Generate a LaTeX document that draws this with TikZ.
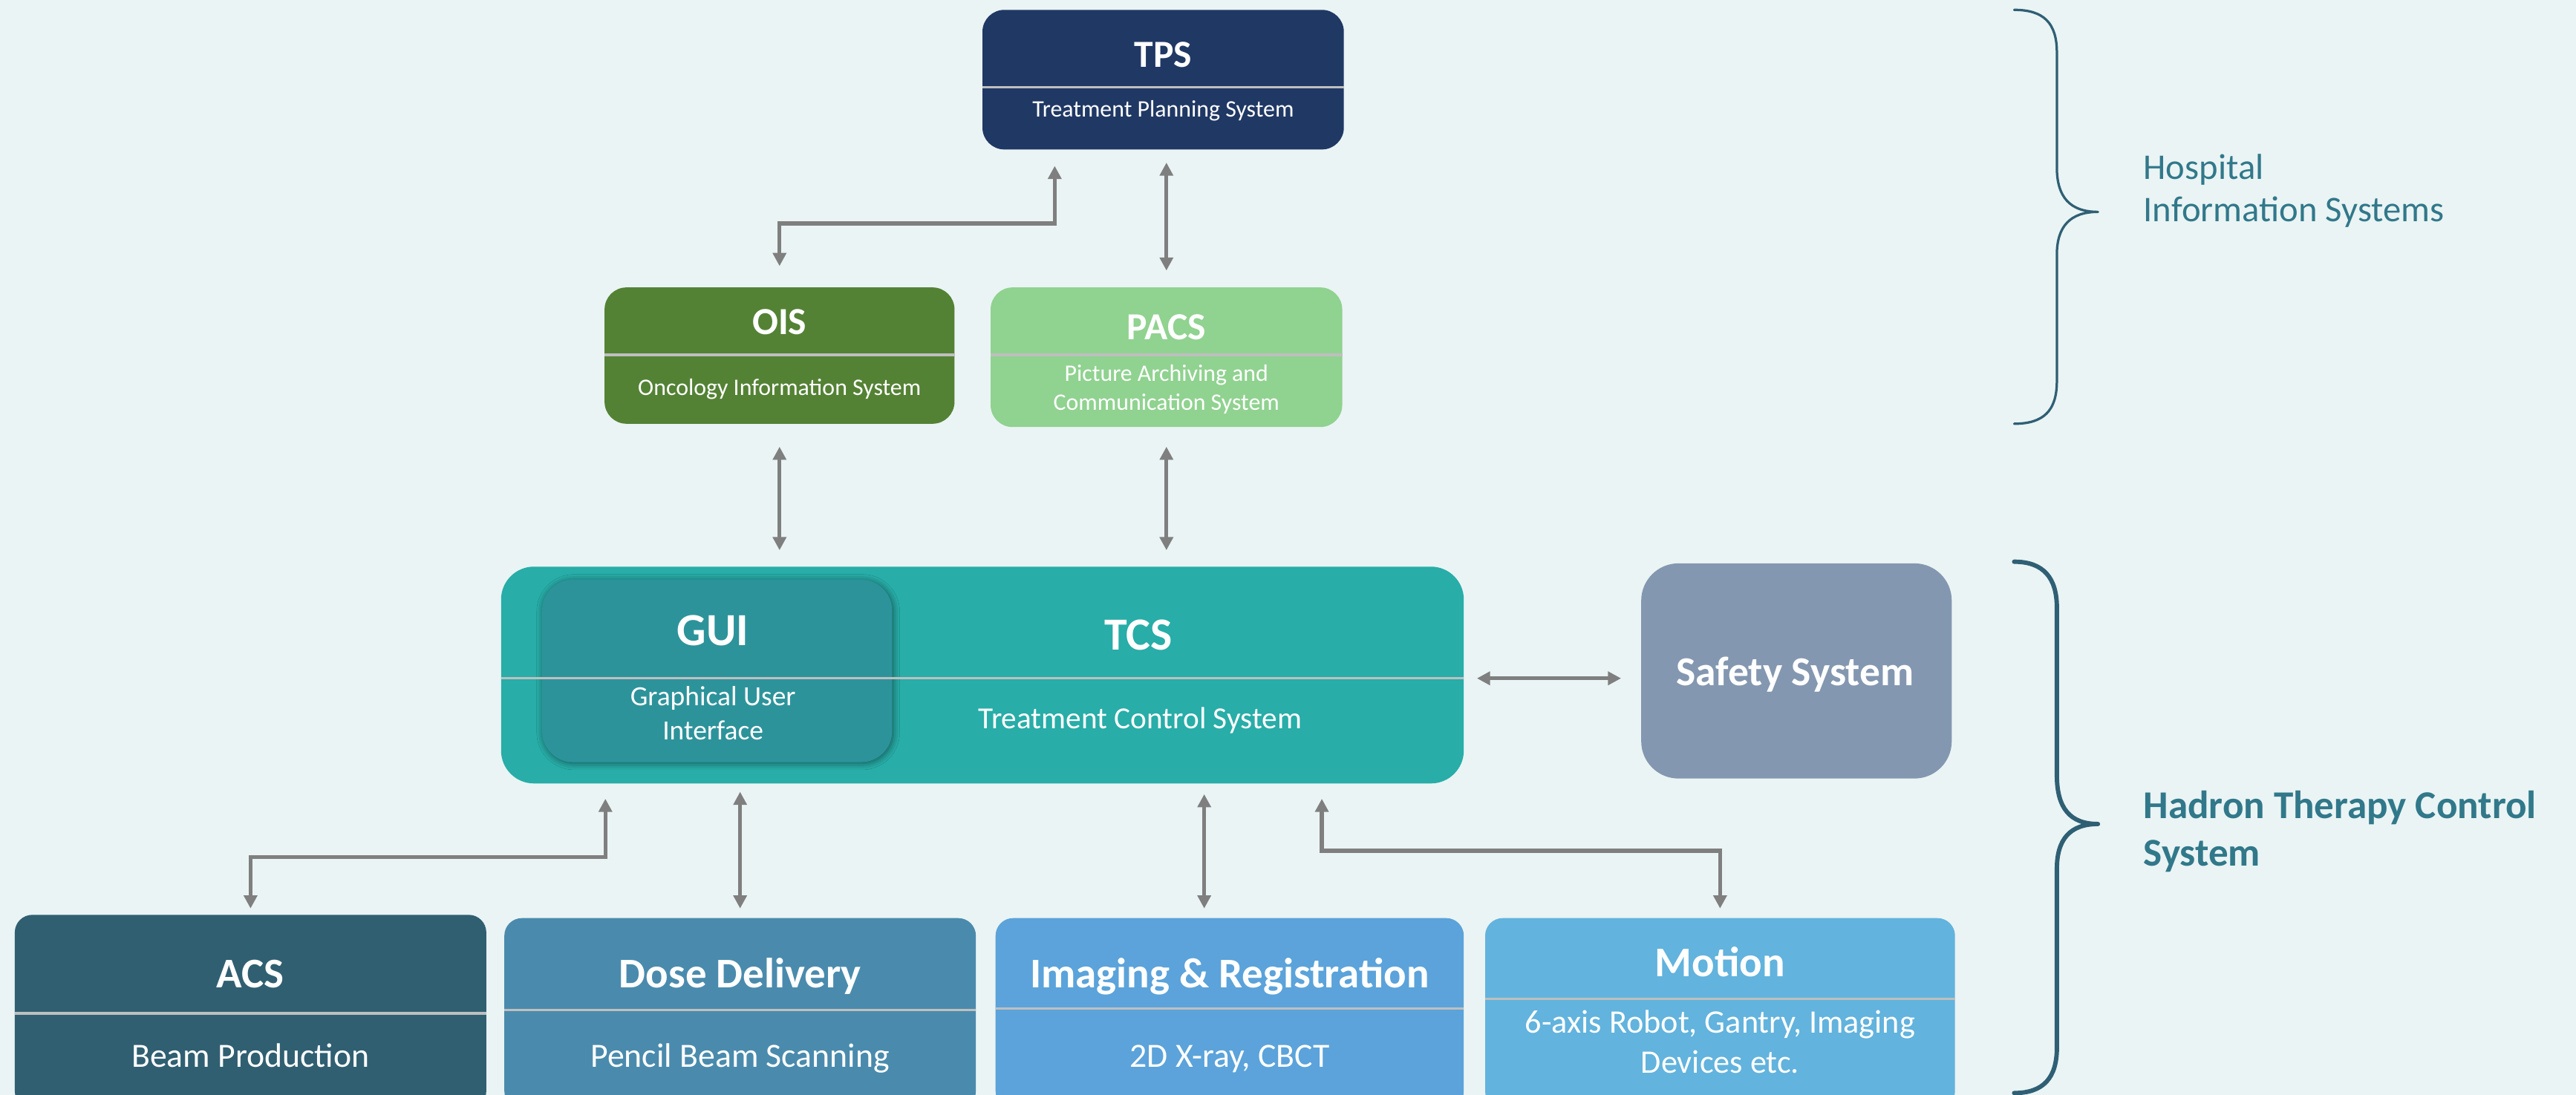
\documentclass[tikz,border=0pt]{standalone}
\usepackage{fontspec}
\setmainfont{Carlito}
\usetikzlibrary{arrows.meta,positioning,shadows.blur}

\definecolor{bgc}{HTML}{EAF4F4}
\definecolor{tpsc}{HTML}{203864}
\definecolor{oisc}{HTML}{548235}
\definecolor{pacsc}{HTML}{90D290}
\definecolor{tcsc}{HTML}{28ADA8}
\definecolor{guic}{HTML}{2D939B}
\definecolor{safec}{HTML}{8497B0}
\definecolor{acsc}{HTML}{305F72}
\definecolor{dosec}{HTML}{4A8BAD}
\definecolor{imgc}{HTML}{5BA3DA}
\definecolor{motc}{HTML}{62B3DD}
\definecolor{arrc}{HTML}{7F7F7F}
\definecolor{divc}{HTML}{BFBFBF}
\definecolor{bracec}{HTML}{2F5F74}
\definecolor{lblc}{HTML}{31788A}

\newcommand{\fsz}[2]{\fontsize{#1}{#2}\selectfont}

\tikzset{
  box/.style={rounded corners=#1, inner sep=0pt, outer sep=0pt},
  box/.default=10pt,
  ttl/.style={anchor=base, text=white, inner sep=0pt, font=\bfseries\fsz{#1}{20}},
  sub/.style={anchor=base, text=white, inner sep=0pt, align=center},
  sep/.style={draw=divc, line width=1.1pt},
  conn/.style={draw=arrc, line width=1.8pt, {Triangle[length=6pt,width=6pt]}-{Triangle[length=6pt,width=6pt]}},
  curly/.style={draw=bracec, line cap=round, line join=round},
  side/.style={anchor=base west, text=lblc, inner sep=0pt, align=left}
}

\begin{document}
\begin{tikzpicture}[x=0.75pt,y=0.75pt,yscale=-1,xscale=1]
\clip (0,0) rectangle (1568,666.7);
\fill[bgc] (0,0) rectangle (1568,666.7);

% hospital systems
\node[box, fill=tpsc, minimum width=165pt, minimum height=63.75pt] (tps) at (708,48.5) {};
\draw[sep] (tps.west |- 0,53) -- (tps.east |- 0,53);
\node[ttl=17.5] (tpsT) at (708,41) {TPS};
\node[sub, font=\fsz{10.8}{13}] (tpsS) at (708,71) {Treatment Planning System};

\node[box, fill=oisc, minimum width=159.75pt, minimum height=62.25pt] (ois) at (474.5,216.5) {};
\draw[sep] (ois.west |- 0,216) -- (ois.east |- 0,216);
\node[ttl=17.5] (oisT) at (474.5,203.4) {OIS};
\node[sub, font=\fsz{10.8}{13}] (oisS) at (474.5,240.6) {Oncology Information System};

\node[box, fill=pacsc, minimum width=160.5pt, minimum height=63.75pt] (pacs) at (710,217.5) {};
\draw[sep] (pacs.west |- 0,216) -- (pacs.east |- 0,216);
\node[ttl=17.5] (pacsT) at (710,206.7) {PACS};
\node[sub, font=\fsz{10.8}{13}] (pacsS) at (710,249.6) {Picture Archiving and\\Communication System};

% control system
\node[box=15pt, fill=tcsc, minimum width=439.5pt, minimum height=99pt] (tcs) at (598,411) {};
\node[box=14pt, fill=guic, minimum width=159.75pt, minimum height=83.25pt,
  blur shadow={shadow xshift=0.5pt, shadow yshift=-0.5pt, shadow blur radius=3pt, shadow opacity=50}] (gui) at (436.5,408.5) {};
\coordinate (tcsdiv) at (305,413);
\draw[sep] (tcs.west |- tcsdiv) -- (tcs.east |- tcsdiv);
\node[ttl=21] (guiT) at (434,393.2) {GUI};
\node[sub, font=\fsz{12.7}{15.4}] (guiS) at (434,450.3) {Graphical User\\Interface};
\node[ttl=21] (tcsT) at (693,395.5) {TCS};
\node[sub, font=\fsz{14}{17}] (tcsS) at (694,443.7) {Treatment Control System};

\node[box=17pt, fill=safec, minimum width=141.75pt, minimum height=98.25pt] (safe) at (1093.5,408.5) {};
\node[ttl=18.8] (safeT) at (1092.6,417.3) {Safety System};

% subsystems
\node[box=8pt, fill=acsc, minimum width=215.25pt, minimum height=88.5pt] (acs) at (152.5,616) {};
\draw[sep] (acs.west |- 0,617) -- (acs.east |- 0,617);
\node[ttl=19.3] (acsT) at (152.5,601.2) {ACS};
\node[sub, font=\fsz{15.5}{18}] (acsS) at (152.5,649.7) {Beam Production};

\node[box=8pt, fill=dosec, minimum width=215.25pt, minimum height=87pt] (dose) at (450.5,617) {};
\draw[sep] (dose.west |- 0,615) -- (dose.east |- 0,615);
\node[ttl=19.3] (doseT) at (450.5,601.2) {Dose Delivery};
\node[sub, font=\fsz{15.5}{18}] (doseS) at (450.5,649.7) {Pencil Beam Scanning};

\node[box=8pt, fill=imgc, minimum width=213.75pt, minimum height=87pt] (img) at (748.5,617) {};
\draw[sep] (img.west |- 0,614) -- (img.east |- 0,614);
\node[ttl=19.3] (imgT) at (748.5,601.2) {Imaging \& Registration};
\node[sub, font=\fsz{15.5}{18}] (imgS) at (748.5,649.7) {2D X-ray, CBCT};

\node[box=8pt, fill=motc, minimum width=214.5pt, minimum height=87pt] (mot) at (1047,617) {};
\draw[sep] (mot.west |- 0,608) -- (mot.east |- 0,608);
\node[ttl=19.3] (motT) at (1047,594.4) {Motion};
\node[sub, font=\fsz{15}{18.3}] (motS) at (1047,653.2) {6-axis Robot, Gantry, Imaging\\Devices etc.};

% connectors
\coordinate (k1) at (642,136);
\coordinate (k2) at (368.5,521.8);
\coordinate (k3) at (733,520);
\coordinate (k4) at (804.6,518);
\draw[conn, shorten <=9.75pt, shorten >=7.5pt] (ois.north) |- (k1) -- (k1 |- tps.south);
\draw[conn, shorten <=6pt, shorten >=7.7pt] (pacs.north |- tps.south) -- (pacs.north);
\draw[conn, shorten <=10.5pt, shorten >=7.5pt] (ois.south) -- (ois.south |- tcs.north);
\draw[conn, shorten <=9pt, shorten >=7.5pt] (pacs.south) -- (pacs.south |- tcs.north);
\draw[conn, shorten <=6pt, shorten >=9.2pt] (tcs.east |- tcsdiv) -- (safe.west |- tcsdiv);
\draw[conn, shorten <=2.9pt, shorten >=7pt] (acs.north) |- (k2) -- (k2 |- tcs.south);
\draw[conn, shorten <=4.4pt, shorten >=3.8pt] (dose.north) -- (dose.north |- tcs.south);
\draw[conn, shorten <=4.4pt, shorten >=4.9pt] (k3 |- img.north) -- (k3 |- tcs.south);
\draw[conn, shorten <=4.4pt, shorten >=7pt] (mot.north) |- (k4) -- (k4 |- tcs.south);

% braces
\draw[curly, line width=1.1pt] (1226,6) .. controls (1244,6) and (1252,14) .. (1252,32) -- (1252,102)
  .. controls (1252,120) and (1260,129) .. (1277,129) .. controls (1260,129) and (1252,138) .. (1252,155)
  -- (1252,232) .. controls (1252,250) and (1244,258) .. (1226,258);
\draw[curly, line width=2pt] (1226,342) .. controls (1244,342) and (1252,352) .. (1252,370) -- (1252,472)
  .. controls (1252,492) and (1260,501.7) .. (1277,501.7) .. controls (1260,501.7) and (1252,511) .. (1252,529)
  -- (1252,638) .. controls (1252,656) and (1244,665.5) .. (1226,665.5);
\node[side, font=\fsz{16.5}{19.4}] (hisL) at (1304.5,134.8) {Hospital\\Information Systems};
\node[side, font=\bfseries\fsz{18}{21.7}] (htcL) at (1304.5,527.3) {Hadron Therapy Control\\System};
\end{tikzpicture}
\end{document}
